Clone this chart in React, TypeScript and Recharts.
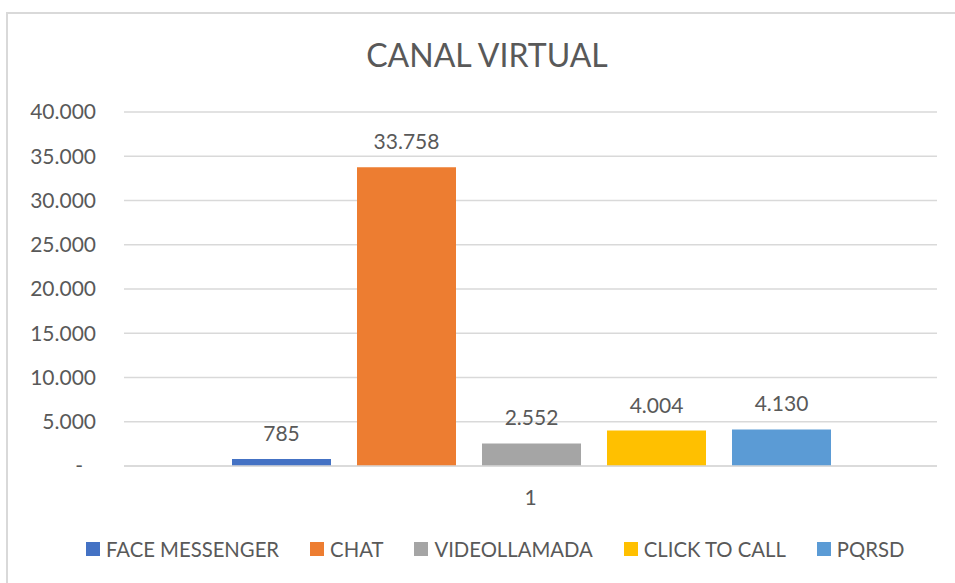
import { Bar, BarChart, CartesianGrid, LabelList, XAxis, YAxis } from 'recharts';

const categories = ['1'];
const seriesNames = ['FACE MESSENGER', 'CHAT', 'VIDEOLLAMADA', 'CLICK TO CALL', 'PQRSD'];
const seriesKeys = ['face', 'chat', 'video', 'click', 'pqrsd'];
const seriesValues = [785, 33758, 2552, 4004, 4130];
const seriesColors = ['#4472C4', '#ED7D31', '#A5A5A5', '#FFC000', '#5B9BD5'];
const yTicks = [0, 5000, 10000, 15000, 20000, 25000, 30000, 35000, 40000];

const data = categories.map((name) => {
  const row: Record<string, string | number> = { name };
  seriesKeys.forEach((k, i) => {
    row[k] = seriesValues[i];
  });
  return row;
});

const FONT = 'Lato, "Open Sans", sans-serif';
const TEXT = '#595959';

const fmt = (v: number) => String(v).replace(/\B(?=(\d{3})+(?!\d))/g, '.');

function YTick(props: any) {
  const { x, y, payload } = props;
  const zero = payload.value === 0;
  return (
    <text
      x={zero ? x - 13 : x}
      y={y}
      dy="0.35em"
      textAnchor="end"
      fill={TEXT}
      fontSize={21}
      fontFamily={FONT}
    >
      {zero ? '-' : fmt(payload.value)}
    </text>
  );
}

// legend drawn outside the chart so it doesn't eat into the plot area
function ChartLegend() {
  return (
    <div
      style={{
        position: 'absolute',
        left: 86,
        top: 537,
        display: 'flex',
        alignItems: 'center',
        fontFamily: FONT,
        fontSize: 20.3,
        lineHeight: '24px',
        color: TEXT,
        whiteSpace: 'nowrap',
      }}
    >
      {seriesNames.map((n, i) => (
        <div key={n} style={{ display: 'flex', alignItems: 'center', marginRight: 31 }}>
          <span style={{ width: 14, height: 14, background: seriesColors[i], marginRight: 6, display: 'inline-block' }} />
          <span>{n}</span>
        </div>
      ))}
    </div>
  );
}

export default function App() {
  return (
    <div style={{ position: 'fixed', left: 0, top: 0, width: 955, height: 583, overflow: 'hidden', background: '#fff' }}>
      <div
        style={{
          position: 'absolute',
          left: 6,
          top: 12,
          width: 1000,
          height: 1000,
          border: '2px solid #D9D9D9',
        }}
      />
      <div
        style={{
          position: 'absolute',
          left: 0,
          top: 39,
          width: 974,
          textAlign: 'center',
          fontFamily: FONT,
          fontSize: 32,
          lineHeight: '32px',
          color: TEXT,
        }}
      >
        CANAL VIRTUAL
      </div>
      <div style={{ position: 'absolute', left: 0, top: 0 }}>
        <BarChart
          width={955}
          height={583}
          data={data}
          margin={{ top: 112, right: 18, bottom: 87, left: 0 }}
          barCategoryGap={108}
          barGap={26}
        >
          <CartesianGrid vertical={false} stroke="#D9D9D9" strokeWidth={1.5} />
          <XAxis
            dataKey="name"
            height={30}
            tickLine={false}
            axisLine={{ stroke: '#D9D9D9', strokeWidth: 1.5 }}
            tickMargin={18}
            tick={{ fill: TEXT, fontSize: 21, fontFamily: FONT }}
          />
          <YAxis
            width={124}
            domain={[0, 40000]}
            ticks={yTicks}
            interval={0}
            tickLine={false}
            axisLine={false}
            tickMargin={22}
            tick={<YTick />}
          />
          {seriesKeys.map((k, i) => (
            <Bar key={k} dataKey={k} name={seriesNames[i]} fill={seriesColors[i]} isAnimationActive={false}>
              <LabelList
                dataKey={k}
                position="top"
                offset={18}
                formatter={(v: any) => fmt(Number(v))}
                fill={TEXT}
                fontSize={21}
                fontFamily={FONT}
              />
            </Bar>
          ))}
        </BarChart>
      </div>
      <ChartLegend />
    </div>
  );
}
